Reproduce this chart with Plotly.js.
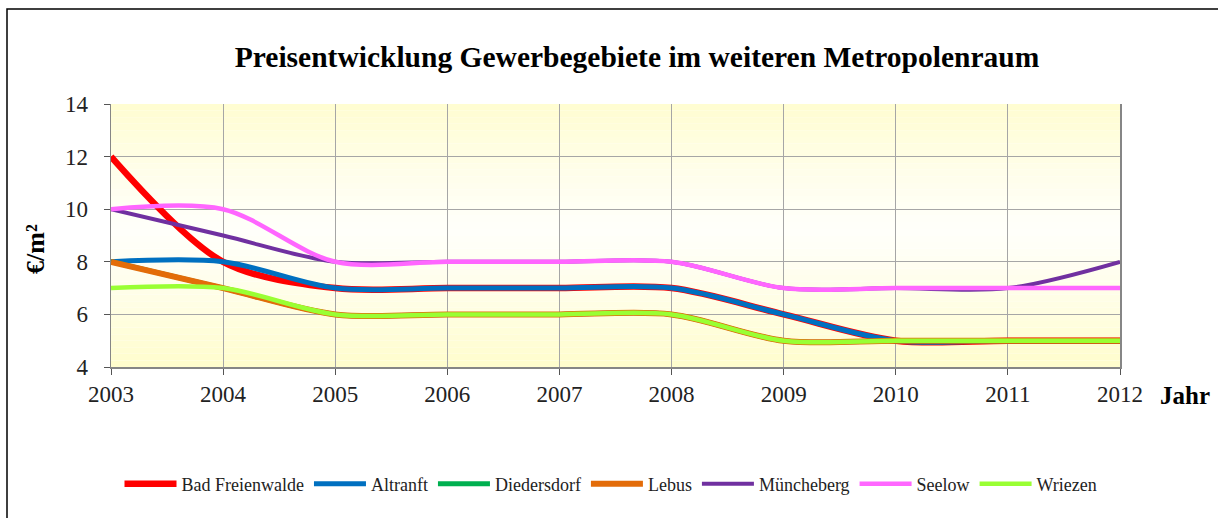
<!DOCTYPE html>
<html>
<head>
<meta charset="utf-8">
<script src="https://cdn.plot.ly/plotly-3.0.1.min.js"></script>
<style>html,body{margin:0;padding:0;background:#fff;}#chart{width:1218px;height:518px;}</style>
</head>
<body>
<div id="chart"></div>
<script>
const years = [2003, 2004, 2005, 2006, 2007, 2008, 2009, 2010, 2011, 2012];
const badFreienwalde = [12, 8, 7, 7, 7, 7, 6, 5, 5, 5];
const altranft       = [8, 8, 7, 7, 7, 7, 6, 5, 5, 5];
const diedersdorf    = [8, 7, 6, 6, 6, 6, 5, 5, 5, 5];
const lebus          = [8, 7, 6, 6, 6, 6, 5, 5, 5, 5];
const muencheberg    = [10, 9, 8, 8, 8, 8, 7, 7, 7, 8];
const seelow         = [10, 10, 8, 8, 8, 8, 7, 7, 7, 7];
const wriezen        = [7, 7, 6, 6, 6, 6, 5, 5, 5, 5];

const seriesNames = ["Bad Freienwalde", "Altranft", "Diedersdorf", "Lebus", "Müncheberg", "Seelow", "Wriezen"];
const seriesValues = [badFreienwalde, altranft, diedersdorf, lebus, muencheberg, seelow, wriezen];
const colors = ["#FF0000", "#0070C0", "#00B050", "#E36C09", "#7030A0", "#FF66FF", "#99FF33"];
const widths = [6.5, 5, 5, 6, 4, 4.5, 4.5];

const font = "Liberation Serif, Times New Roman, serif";

const traces = seriesNames.map((n, i) => ({
  x: years, y: seriesValues[i], name: n, type: "scatter", mode: "lines",
  line: {color: colors[i], width: widths[i], shape: "spline", smoothing: 0.9},
  hoverinfo: "x+y+name"
}));

// background gradient (yellow -> white -> yellow)
const shapes = [];
const N = 40;
for (let k = 0; k < N; k++) {
  const t = (k + 0.5) / N; // 0 bottom, 1 top
  const d = Math.abs(t - 0.52) / 0.52; // 0 middle, 1 edges
  const b = Math.round(250 - 46 * Math.pow(d, 1.2));
  const g = Math.round(255 - 2 * d);
  shapes.push({type: "rect", xref: "x domain", yref: "y domain", x0: 0, x1: 1, y0: k / N, y1: (k + 1) / N,
    fillcolor: `rgb(255,${g},${b})`, line: {width: 0}, layer: "below"});
}
// outer chart frame (right and bottom edges lie outside the picture)
shapes.push({type: "rect", xref: "paper", yref: "paper",
  x0: (7 - 111) / 1009, x1: (1240 - 111) / 1009, y0: -1, y1: (367 - 9) / 263,
  line: {color: "#000", width: 1.5}, fillcolor: "rgba(0,0,0,0)", layer: "above"});

const layout = {
  width: 1218, height: 518,
  margin: {l: 111, r: 98, t: 104, b: 151, autoexpand: false},
  paper_bgcolor: "#fff", plot_bgcolor: "rgba(0,0,0,0)",
  title: {text: "<b>Preisentwicklung Gewerbegebiete im weiteren Metropolenraum</b>",
    font: {family: font, size: 29.5, color: "#000"}, x: 637 / 1218, xanchor: "center", y: 1 - 57 / 518, yanchor: "middle", yref: "container"},
  xaxis: {range: [2003, 2012], tickvals: years, ticktext: years.map(String),
    showgrid: true, gridcolor: "#a6a6a6", gridwidth: 1,
    showline: true, linecolor: "#868686", linewidth: 1.5, mirror: false,
    ticks: "outside", ticklen: 6, tickcolor: "#555", tickfont: {family: font, size: 23, color: "#222"},
    zeroline: false, fixedrange: true, automargin: false},
  yaxis: {range: [4, 14], tickvals: [4, 6, 8, 10, 12, 14],
    showgrid: true, gridcolor: "#a6a6a6", gridwidth: 1,
    showline: true, linecolor: "#868686", linewidth: 1.5, mirror: true,
    ticks: "outside", ticklen: 6, tickcolor: "#555", tickfont: {family: font, size: 23, color: "#222"},
    ticklabelstandoff: 11,
    zeroline: false, fixedrange: true, automargin: false},
  showlegend: true,
  legend: {orientation: "h", x: (611 - 111) / 1009, xanchor: "center", xref: "paper", y: (367 - 484) / 263, yanchor: "middle",
    itemwidth: 52,
    font: {family: font, size: 18, color: "#222"}, bgcolor: "rgba(0,0,0,0)", traceorder: "normal"},
  annotations: [
    {text: "<b>€/m²</b>", xref: "paper", yref: "paper", x: (36 - 111) / 1009, y: (367 - 249) / 263, textangle: -90,
      showarrow: false, font: {family: font, size: 26, color: "#000"}, xanchor: "center", yanchor: "middle"},
    {text: "<b>Jahr</b>", xref: "paper", yref: "paper", x: (1185 - 111) / 1009, y: (367 - 395) / 263,
      showarrow: false, font: {family: font, size: 25, color: "#000"}, xanchor: "center", yanchor: "middle"}
  ],
  shapes: shapes
};

Plotly.newPlot("chart", traces, layout, {displayModeBar: false, staticPlot: true});
</script>
</body>
</html>
